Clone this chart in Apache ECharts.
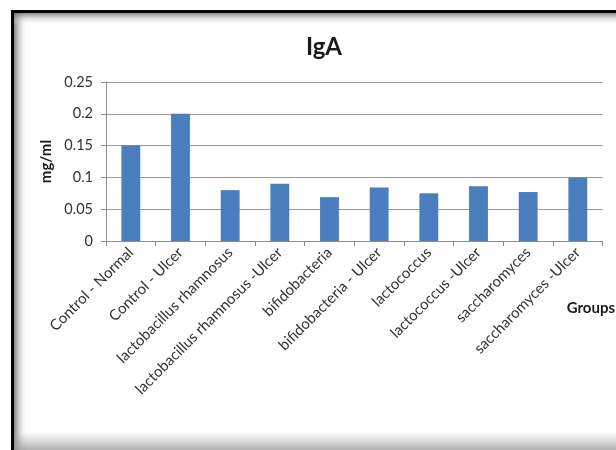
<!DOCTYPE html>
<html>
<head>
<meta charset="utf-8">
<script src="https://cdn.jsdelivr.net/npm/echarts@6/dist/echarts.min.js"></script>
<style>
html,body{margin:0;padding:0;background:#fff;}
#chart{width:616px;height:450px;}
</style>
</head>
<body>
<div id="chart"></div>
<script>
const categories = [
  'Control - Normal',
  'Control - Ulcer',
  'lactobacillus rhamnosus',
  'lactobacillus rhamnosus -Ulcer',
  'bifidobacteria',
  'bifidobacteria - Ulcer',
  'lactococcus',
  'lactococcus -Ulcer',
  'saccharomyces',
  'saccharomyces -Ulcer'
];
const igaValues = [0.15, 0.2, 0.08, 0.09, 0.069, 0.084, 0.075, 0.086, 0.077, 0.1];
const yTicks = [0, 0.05, 0.1, 0.15, 0.2, 0.25];

const chart = echarts.init(document.getElementById('chart'), null, {renderer: 'canvas'});

function lin(x, y, x2, y2, c0, c1) {
  return new echarts.graphic.LinearGradient(x, y, x2, y2, [{offset: 0, color: c0}, {offset: 1, color: c1}]);
}
const frame = [
  {type: 'rect', silent: true, z: -10, shape: {x: 14, y: 13, width: 14, height: 437},
   style: {fill: lin(0, 0, 1, 0, 'rgba(90,90,90,0.75)', 'rgba(255,255,255,0)')}},
  {type: 'rect', silent: true, z: -10, shape: {x: 14, y: 13, width: 602, height: 12},
   style: {fill: lin(0, 0, 0, 1, 'rgba(90,90,90,0.7)', 'rgba(255,255,255,0)')}},
  {type: 'rect', silent: true, z: -10, shape: {x: 14, y: 432, width: 602, height: 18},
   style: {fill: lin(0, 0, 0, 1, 'rgba(160,160,160,0)', 'rgba(150,150,150,0.75)')}},
  {type: 'rect', silent: true, z: -9, shape: {x: 11, y: 10, width: 3, height: 440}, style: {fill: '#050505'}},
  {type: 'rect', silent: true, z: -9, shape: {x: 11, y: 10, width: 605, height: 3}, style: {fill: '#050505'}}
];

chart.setOption({
  backgroundColor: '#ffffff',
  animation: false,
  graphic: frame,
  title: {
    text: 'IgA',
    left: 319, top: 30, textAlign: 'center',
    textStyle: {fontFamily: 'Lato', fontWeight: 'bold', fontSize: 24, color: '#1a1a1a'}
  },
  grid: {left: 106, right: 12, top: 82, height: 159, containLabel: false},
  xAxis: {
    type: 'category',
    data: categories,
    name: 'Groups',
    nameLocation: 'end',
    nameGap: 0,
    nameTextStyle: {fontFamily: 'Lato', fontWeight: 'bold', fontSize: 15, color: '#1a1a1a', align: 'left', verticalAlign: 'top', padding: [60, 0, 0, -36]},
    axisLine: {lineStyle: {color: '#8c8c8c', width: 1}},
    axisTick: {show: true, alignWithLabel: false, length: 5, lineStyle: {color: '#8c8c8c'}},
    axisLabel: {interval: 0, rotate: 45, fontFamily: 'Lato', fontSize: 15, color: '#333333', margin: 9}
  },
  yAxis: {
    type: 'value',
    min: 0, max: 0.25, interval: 0.05,
    name: 'mg/ml',
    nameLocation: 'middle',
    nameGap: 47,
    nameRotate: 90,
    nameTextStyle: {fontFamily: 'Lato', fontWeight: 'bold', fontSize: 15, color: '#1a1a1a'},
    axisLine: {show: true, lineStyle: {color: '#8c8c8c'}},
    axisTick: {show: true, length: 5, lineStyle: {color: '#8c8c8c'}},
    splitLine: {lineStyle: {color: '#9a9a9a', width: 1}},
    axisLabel: {
      fontFamily: 'Lato', fontSize: 14.5, color: '#333333', margin: 13,
      formatter: v => {
        const t = yTicks.find(x => Math.abs(x - v) < 1e-9);
        return String(t !== undefined ? t : v);
      }
    }
  },
  series: [{
    type: 'bar',
    data: igaValues,
    barWidth: '38%',
    itemStyle: {color: '#4a7ebf'}
  }]
});
</script>
</body>
</html>
